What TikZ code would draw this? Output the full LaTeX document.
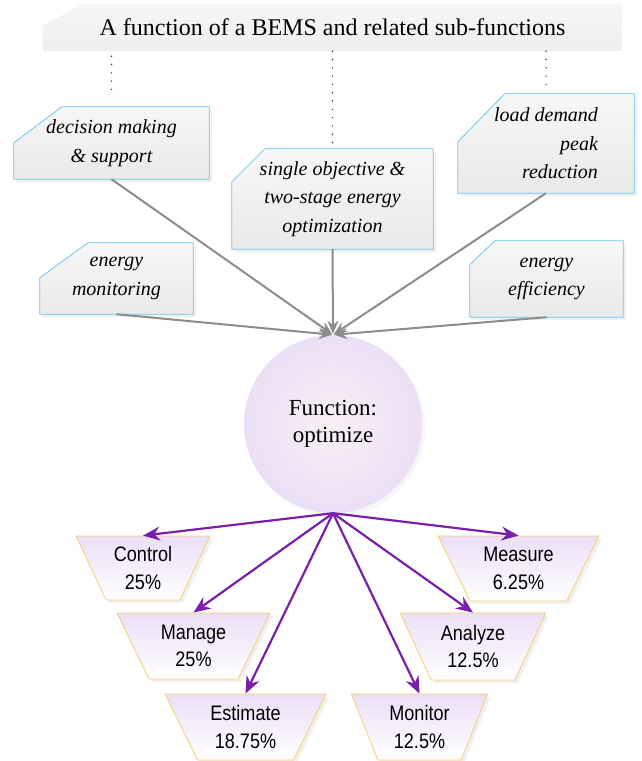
\documentclass[tikz,border=0pt]{standalone}
\usepackage{fontspec}
\setmainfont{Liberation Serif}
\setsansfont{Liberation Sans}
\newfontfamily\sharefont[FakeStretch=0.86]{Liberation Sans}
\usetikzlibrary{shapes.geometric,arrows.meta,shadows,positioning}
\definecolor{boxline}{RGB}{105,200,238}
\definecolor{arrowgray}{RGB}{140,140,140}
\definecolor{funcpurple}{RGB}{122,31,172}
\definecolor{lilac}{RGB}{235,223,246}
\definecolor{lilaccore}{RGB}{248,240,244}
\definecolor{trapline}{RGB}{246,206,110}
\pgfdeclarelayer{background}
\pgfsetlayers{background,main}
% snipped-corner box behind a node: style, node, cut x, cut y
\newcommand\snipbox[4][]{%
  \path[#1] ([yshift=-#4]#2.north west) -- ([xshift=#3]#2.north west) -- (#2.north east)
    -- (#2.south east) -- (#2.south west) -- cycle;}

\begin{document}
\begin{tikzpicture}[x=1pt,y=-1pt,
    title node/.style={rectangle,inner sep=0pt,font=\fontsize{24}{28}\selectfont},
    title fill/.style={top color=gray!7,bottom color=gray!13},
    sub node/.style={rectangle,inner sep=0pt,align=center,font=\fontsize{20}{28.5}\selectfont\itshape},
    sub fill/.style={draw=boxline,line width=0.8pt,top color=gray!6,bottom color=gray!17,
      drop shadow={opacity=0.12,shadow xshift=3pt,shadow yshift=-3pt}},
    func node/.style={circle,minimum size=178pt,inner color=lilaccore,outer color=lilac,
      align=center,drop shadow={opacity=0.08,shadow xshift=3pt,shadow yshift=-3pt},
      font=\fontsize{23}{27}\selectfont},
    share node/.style={trapezium,shape border rotate=180,trapezium angle=61,trapezium stretches=true,
      draw=trapline,line width=0.8pt,top color=lilac,bottom color=white,minimum height=65pt,
      inner sep=0pt,align=center,drop shadow={opacity=0.12,shadow xshift=3pt,shadow yshift=-3pt},
      font=\sharefont\fontsize{21}{27.5}\selectfont},
    dotline/.style={line width=1.6pt,line cap=round,dash pattern=on 0pt off 8.3pt,black!75},
    in arrow/.style={arrowgray,line width=2pt,-{Stealth[length=13pt,width=11pt]},shorten >=1pt},
    out arrow/.style={funcpurple,line width=2.2pt,-{Stealth[length=17pt,width=14pt]}}]
  \useasboundingbox (0,0) rectangle (641,761);

  % banner
  \node[title node,minimum width=579pt,minimum height=47pt] (banner) at (332.5,27.5)
    {A function of a BEMS and related sub-functions};

  % sub-functions
  \node[sub node,minimum width=195pt,minimum height=72pt] (decision) at (111.5,143)
    {decision making\\\& support};
  \node[sub node,minimum width=153pt,minimum height=71pt] (monitoring) at (116.5,278.5)
    {energy\\monitoring};
  \node[sub node,minimum width=201pt,minimum height=100pt] (single) at (332.5,199)
    {single objective \&\\two-stage energy\\optimization};
  \node[sub node,minimum width=176pt,minimum height=99pt,align=right] (peak) at (546,143.5)
    {load demand\\peak\\reduction};
  \node[sub node,minimum width=153pt,minimum height=76pt] (efficiency) at (546.5,279)
    {energy\\efficiency};

  \begin{pgfonlayer}{background}
    \snipbox[title fill]{banner}{40pt}{22pt}
    \snipbox[sub fill]{decision}{48pt}{36pt}
    \snipbox[sub fill]{monitoring}{48pt}{35pt}
    \snipbox[sub fill]{single}{33pt}{33pt}
    \snipbox[sub fill]{peak}{47pt}{48pt}
    \snipbox[sub fill]{efficiency}{25pt}{24pt}
  \end{pgfonlayer}

  \draw[dotline,shorten <=5pt,shorten >=10pt] (banner.south -| decision.north) -- (decision.north);
  \draw[dotline,shorten >=3pt] (banner.south -| single.north) -- (single.north);
  \draw[dotline,shorten >=3pt] (banner.south -| peak.north) -- (peak.north);

  % main function
  \node[func node] (optimize) at (333,424) {Function:\\optimize};

  \path[in arrow] (decision.south) edge (optimize.north);
  \path[in arrow] (monitoring.south) edge (optimize.north);
  \path[in arrow] (single.south) edge (optimize.north);
  \path[in arrow] (peak.south) edge (optimize.north);
  \path[in arrow] (efficiency.south) edge (optimize.north);

  % shares
  \node[share node,minimum width=134pt,minimum height=64pt] (control) at (143,568) {Control\\25\%};
  \node[share node,minimum width=153pt,minimum height=66pt] (manage) at (193.5,646) {Manage\\25\%};
  \node[share node,minimum width=161pt,minimum height=66pt] (estimate) at (245.5,727) {Estimate\\18.75\%};
  \node[share node,minimum width=161pt] (measure) at (518.5,568.5) {Measure\\6.25\%};
  \node[share node,minimum width=146pt,minimum height=67pt] (analyze) at (473,646.5) {Analyze\\12.5\%};
  \node[share node,minimum width=137pt,minimum height=66pt,trapezium angle=66] (monitor) at (419.5,727) {Monitor\\12.5\%};

  \path[out arrow] (optimize.south) edge (control.north);
  \path[out arrow] (optimize.south) edge (manage.north);
  \path[out arrow] (optimize.south) edge (estimate.north);
  \path[out arrow] (optimize.south) edge (measure.north);
  \path[out arrow] (optimize.south) edge (analyze.north);
  \path[out arrow] (optimize.south) edge (monitor.north);
\end{tikzpicture}
\end{document}
